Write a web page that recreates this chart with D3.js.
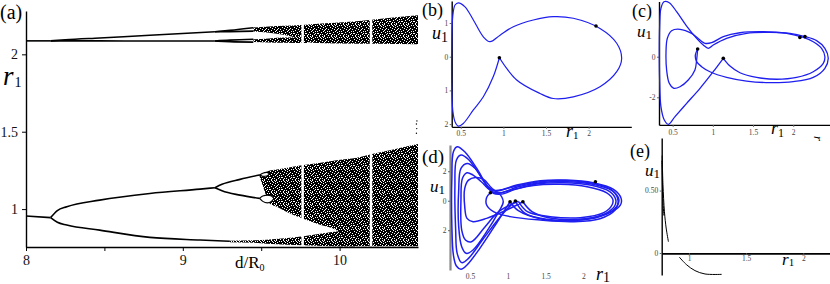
<!DOCTYPE html>
<html>
<head>
<meta charset="utf-8">
<script src="https://cdn.jsdelivr.net/npm/d3@7"></script>
<style>
  body { margin: 0; background: #fff; }
  text { font-family: "Liberation Serif", "DejaVu Serif", serif; }
</style>
</head>
<body>
<div class="fig"></div>
<script>
// ---- (a) bifurcation diagram ----
let aTicksX = [8, 8.5, 9, 9.5, 10];
let aTicksY = [1, 1.5, 2];

// period branches [d/R0, r1]
let p1Low = [[8, 0.955], [8.157, 0.945]];
let p2Up = [[8.157, 0.945], [8.2, 0.99], [8.26, 1.015], [8.47, 1.058], [8.79, 1.101], [9.11, 1.129], [9.205, 1.138]];
let p2Down = [[8.157, 0.945], [8.2, 0.915], [8.26, 0.897], [8.47, 0.864], [8.79, 0.817], [9.11, 0.8], [9.3, 0.792]];
let p4UpA = [[9.205, 1.138], [9.25, 1.16], [9.365, 1.192], [9.49, 1.22]];
let p4UpB = [[9.205, 1.138], [9.25, 1.118], [9.365, 1.09], [9.49, 1.069]];
let topP1 = [[8, 2.087], [8.157, 2.087]];
let topUp = [[8.157, 2.087], [8.25, 2.094], [8.47, 2.106], [8.79, 2.123], [9.205, 2.146]];
let topDown = [[8.157, 2.087], [8.47, 2.087], [8.79, 2.086], [9.205, 2.086]];
let topUpA = [[9.205, 2.146], [9.3, 2.155], [9.45, 2.172]];
let topUpB = [[9.205, 2.146], [9.3, 2.147], [9.45, 2.15]];
let topDownA = [[9.205, 2.086], [9.3, 2.092], [9.45, 2.097]];
let topDownB = [[9.205, 2.086], [9.3, 2.082], [9.45, 2.079]];

// chaotic bands [d/R0, low r1, high r1]
let chaosMain = [[9.49, 1.21, 1.225], [9.52, 1.12, 1.235], [9.55, 1.04, 1.248], [9.6, 1.015, 1.255], [9.66, 0.983, 1.265],
  [9.76, 0.94, 1.283], [9.88, 0.897, 1.3], [9.98, 0.864, 1.315], [10.06, 0.8, 1.325], [10.1, 0.76, 1.33],
  [10.2, 0.76, 1.355], [10.35, 0.76, 1.387], [10.5, 0.76, 1.42]];
let chaosLow = [[9.3, 0.786, 0.795], [9.5, 0.78, 0.8], [9.57, 0.775, 0.805], [9.77, 0.767, 0.825], [9.94, 0.76, 0.85], [10.1, 0.758, 0.87]];
let chaosTopA = [[9.45, 2.148, 2.173], [9.55, 2.14, 2.18], [9.65, 2.125, 2.185], [9.75, 2.1, 2.19], [9.82, 2.075, 2.195],
  [10.0, 2.07, 2.205], [10.25, 2.068, 2.228], [10.5, 2.065, 2.252]];
let chaosTopB = [[9.45, 2.079, 2.097], [9.55, 2.077, 2.103], [9.65, 2.075, 2.108], [9.8, 2.073, 2.11]];
let lensLow = [[9.49, 1.069, 1.069], [9.51, 1.05, 1.085], [9.54, 1.04, 1.09], [9.565, 1.05, 1.085], [9.58, 1.066, 1.07]];
let lensUp = [[9.49, 1.22, 1.22], [9.51, 1.212, 1.232], [9.535, 1.214, 1.237], [9.55, 1.224, 1.229]];
let periodWindows = [9.764, 10.2];
let edgeDots = [[10.49, 1.49], [10.492, 1.52], [10.49, 1.55], [10.493, 1.57]];

// ---- (b)-(e) phase portraits [r1, u1] ----
let bTicksX = [0.5, 1, 1.5, 2];
let bTicksY = [1, 0, -1, -2];
let orbitB = [[0.953, -0.03], [1.156, -0.69], [1.43, -1.09], [1.586, -1.24], [1.82, -1.19], [2.133, -0.89], [2.329, -0.445],
  [2.387, -0.05], [2.329, 0.4], [2.133, 0.84], [1.82, 1.14], [1.586, 1.19], [1.351, 1.09], [1.117, 0.89], [0.961, 0.64],
  [0.843, 0.445], [0.765, 0.59], [0.648, 1.09], [0.55, 1.48], [0.472, 1.6], [0.433, 1.535], [0.406, 1.19], [0.394, 0.2],
  [0.394, -0.79], [0.406, -1.58], [0.433, -1.93], [0.472, -2.06], [0.53, -1.98], [0.648, -1.58], [0.765, -1.19],
  [0.882, -0.59], [0.953, -0.03]];
let dotsB = [[0.953, -0.03], [2.086, 0.91]];

let cTicksX = [0.5, 1, 1.5, 2];
let cTicksY = [0, -2];
let orbitC1 = [[1.13, -0.08], [1.213, -0.46], [1.337, -0.79], [1.544, -1.02], [1.793, -1.11], [2.042, -1.02], [2.249, -0.74],
  [2.374, -0.33], [2.394, 0.0], [2.353, 0.41], [2.249, 0.74], [2.125, 0.95], [1.918, 1.15], [1.627, 1.23], [1.337, 1.18],
  [1.13, 0.99], [0.985, 0.69], [0.902, 0.66], [0.84, 0.82], [0.736, 1.15], [0.591, 1.35], [0.487, 1.28], [0.433, 0.9],
  [0.417, 0.166], [0.425, -0.655], [0.458, -1.31], [0.516, -1.56], [0.591, -1.48], [0.694, -1.15], [0.777, -0.655],
  [0.798, -0.16], [0.811, 0.38]];
let orbitC2 = [[0.811, 0.38], [0.782, 0.08], [0.798, -0.245], [0.86, -0.49], [0.964, -0.74], [1.171, -1.02], [1.42, -1.2],
  [1.71, -1.28], [2.0, -1.23], [2.249, -1.02], [2.394, -0.57], [2.436, -0.08], [2.394, 0.41], [2.291, 0.79], [2.146, 0.99],
  [1.959, 1.15], [1.71, 1.2], [1.42, 1.15], [1.171, 0.905], [1.005, 0.576], [0.943, 0.41], [0.881, 0.576], [0.798, 0.905],
  [0.674, 1.51], [0.549, 2.22], [0.458, 2.66], [0.392, 2.71], [0.354, 2.38], [0.338, 1.48], [0.334, 0.166], [0.338, -1.15],
  [0.354, -2.46], [0.396, -3.12], [0.446, -3.33], [0.529, -2.95], [0.674, -2.3], [0.84, -1.56], [1.005, -0.74], [1.13, -0.08]];
let dotsC = [[1.13, -0.08], [0.811, 0.38], [2.083, 0.95], [2.146, 0.99]];

let dTicksX = [0.5, 1, 1.5, 2];
let dTicksY = [2, 0, -2];
let orbitD1 = [[1.2, -0.07], [1.32, -0.74], [1.56, -1.17], [1.96, -1.26], [2.31, -0.9], [2.49, -0.3], [2.5, 0.16], [2.4, 0.77],
  [2.13, 1.22], [1.78, 1.4], [1.43, 1.36], [1.12, 1.06], [0.92, 0.73], [0.83, 0.66], [0.74, 0.95], [0.59, 2.19], [0.43, 3.32],
  [0.33, 3.66], [0.28, 3.32], [0.26, 1.63], [0.26, -1.76], [0.28, -3.68], [0.32, -4.43], [0.38, -4.65], [0.46, -4.36],
  [0.63, -3.23], [0.85, -1.53], [1.03, -0.07]];
let orbitD2 = [[1.03, -0.07], [1.14, -0.68], [1.43, -1.22], [1.87, -1.35], [2.22, -1.08], [2.44, -0.4], [2.47, 0.09], [2.38, 0.68],
  [2.11, 1.13], [1.78, 1.29], [1.43, 1.22], [1.14, 0.95], [0.96, 0.61], [0.86, 0.5], [0.77, 0.73], [0.63, 1.74], [0.48, 2.8],
  [0.38, 3.1], [0.32, 2.76], [0.3, 0.95], [0.31, -1.99], [0.33, -3.57], [0.39, -4.2], [0.48, -3.91], [0.68, -2.55],
  [0.92, -0.97], [1.1, -0.02]];
let orbitD3 = [[1.1, -0.02], [1.23, -0.86], [1.52, -1.26], [1.91, -1.31], [2.24, -0.99], [2.41, -0.4], [2.43, 0.05], [2.35, 0.61],
  [2.09, 1.06], [1.74, 1.22], [1.38, 1.13], [1.1, 0.77], [0.92, 0.45], [0.81, 0.5], [0.7, 1.18], [0.57, 2.19], [0.46, 2.53],
  [0.38, 2.19], [0.35, 0.73], [0.35, -1.76], [0.39, -3.12], [0.45, -3.57], [0.54, -3.34], [0.72, -2.1], [0.88, -0.74],
  [0.94, -0.07], [0.88, 0.5], [0.77, 0.54]];
let orbitD4 = [[0.77, 0.54], [0.72, 0.22], [0.72, -0.29], [0.81, -0.74], [1.03, -1.08], [1.43, -1.31], [1.87, -1.42], [2.22, -1.22],
  [2.42, -0.63], [2.46, -0.02], [2.39, 0.68], [2.13, 1.18], [1.78, 1.36], [1.43, 1.29], [1.12, 1.0], [0.9, 0.73], [0.77, 0.73],
  [0.65, 1.29], [0.54, 1.74], [0.46, 1.9], [0.4, 1.52], [0.38, 0.05], [0.39, -1.99], [0.44, -2.66], [0.52, -2.78],
  [0.7, -1.76], [0.88, -0.74], [1.14, -0.04]];
let orbitD5 = [[1.14, -0.04], [1.26, -0.74], [1.56, -1.08], [1.96, -1.15], [2.27, -0.81], [2.38, -0.29], [2.39, 0.09], [2.31, 0.54],
  [2.05, 0.95], [1.69, 1.11], [1.34, 1.04], [1.05, 0.73], [0.88, 0.54], [0.79, 0.84], [0.68, 1.45], [0.57, 1.58], [0.48, 1.4],
  [0.43, 0.84], [0.43, -0.4], [0.46, -1.2], [0.54, -1.42], [0.72, -1.2], [0.94, -0.74], [1.12, -0.29], [1.2, -0.07]];
let dotsD = [[1.03, -0.07], [1.1, -0.02], [1.2, -0.07], [0.77, 0.54], [2.16, 1.29]];

let eTicksX = [1, 1.5, 2];
let eTicksY = [0.5, 0];
let eNearAxisA = [[0.765, 0.78], [0.772, 0.55], [0.785, 0.33], [0.8, 0.2], [0.82, 0.09]];
let eNearAxisB = [[0.763, 0.74], [0.766, 0.6], [0.77, 0.45], [0.78, 0.3]];
let eLowerArc = [[0.915, -0.033], [0.98, -0.095], [1.052, -0.141], [1.14, -0.168], [1.286, -0.171]];

const blue = "#1e1ef0";
const serif = "'Liberation Serif', 'DejaVu Serif', serif";

let svg = d3.select(".fig")
  .append("svg")
  .attr("width", 830)
  .attr("height", 284)
  .style("background-color", "white");

// speckled fill for the chaotic bands (white grains on black)
let pat = svg.append("defs").append("pattern")
  .attr("id", "speckle")
  .attr("width", 12)
  .attr("height", 12)
  .attr("patternUnits", "userSpaceOnUse");
pat.append("rect").attr("width", 12).attr("height", 12).attr("fill", "#000");
let grains = [[0, 0], [7, 0], [10, 0], [3, 1], [5, 1], [11, 1], [9, 2], [1, 2], [11, 3], [6, 3], [2, 4], [8, 4],
  [4, 5], [10, 5], [0, 6], [7, 6], [3, 7], [5, 7], [11, 7], [1, 8], [9, 8], [6, 9], [5, 9], [3, 9],
  [2, 10], [8, 10], [10, 10], [4, 11], [0, 11], [7, 11], [1, 5], [8, 1]];
grains.forEach(p => {
  pat.append("rect").attr("x", p[0]).attr("y", p[1]).attr("width", 1).attr("height", 1).attr("fill", "#fff");
});

function subLabel(x, y, main, sub, size, subSize, dx, dy, italic) {
  let t = svg.append("text").attr("x", x).attr("y", y).attr("font-size", size).attr("fill", "#000");
  t.append("tspan").text(main).attr("font-style", italic ? "italic" : "normal");
  t.append("tspan").text(sub).attr("font-size", subSize).attr("dx", dx).attr("dy", dy).attr("font-style", "normal");
}

// ================= panel (a) =================
let xA = d3.scaleLinear().domain([8, 10.5]).range([26, 418]);
let yA = d3.scaleLinear().domain([0.755, 2.28]).range([247, 11]);

let bandArea = d3.area()
  .x(d => xA(d[0]))
  .y0(d => yA(d[1]))
  .y1(d => yA(d[2]))
  .curve(d3.curveMonotoneX);

[chaosMain, chaosLow, chaosTopA, chaosTopB].forEach(b => {
  svg.append("path").attr("d", bandArea(b)).attr("fill", "url(#speckle)");
});

periodWindows.forEach(w => {
  svg.append("rect")
    .attr("x", xA(w) - 1.2)
    .attr("y", 12)
    .attr("width", 2.5)
    .attr("height", 234)
    .attr("fill", "#fff");
});

[lensLow, lensUp].forEach(l => {
  svg.append("path").attr("d", bandArea(l))
    .attr("fill", "#fff").attr("stroke", "#000").attr("stroke-width", 1.1);
});

let branchLine = d3.line().x(d => xA(d[0])).y(d => yA(d[1])).curve(d3.curveMonotoneX);
[p1Low, p2Up, p2Down, p4UpA, p4UpB, topP1, topUp, topDown, topUpA, topUpB, topDownA, topDownB].forEach(b => {
  svg.append("path").attr("d", branchLine(b))
    .attr("fill", "none").attr("stroke", "#000").attr("stroke-width", 1.6);
});

svg.selectAll(".edgeDot").data(edgeDots).enter().append("circle")
  .attr("cx", d => xA(d[0])).attr("cy", d => yA(d[1])).attr("r", 0.7).attr("fill", "#000");

let axA = svg.append("g").attr("transform", "translate(0,247)")
  .call(d3.axisBottom(xA).tickValues(aTicksX).tickSize(4).tickSizeOuter(0).tickPadding(4)
    .tickFormat(d => Number.isInteger(d) ? d : ""));
let ayA = svg.append("g").attr("transform", "translate(26,0)")
  .call(d3.axisLeft(yA).tickValues(aTicksY).tickSize(4).tickSizeOuter(0).tickPadding(4)
    .tickFormat(d => String(d)));
[axA, ayA].forEach(g => {
  g.attr("font-family", serif);
  g.select(".domain").attr("stroke", "#000").attr("stroke-width", 1.4);
  g.selectAll("line").attr("stroke", "#000");
  g.selectAll("text").attr("font-size", 14).attr("fill", "#111");
});

svg.append("text").attr("x", 0).attr("y", 19).attr("font-size", 20).text("(a)");
subLabel(3, 85, "r", "1", 27, 14, 1, 2, true);
subLabel(235, 268, "d/R", "0", 17, 10, 0, 3, false);

// ================= phase portraits helpers =================
function phaseAxes(xs, ys, xTicks, yTicks, x0, y0, opts) {
  let gx = svg.append("g").attr("transform", "translate(0," + y0 + ")")
    .call(d3.axisBottom(xs).tickValues(xTicks).tickSize(opts.tx).tickSizeOuter(0).tickPadding(opts.px)
      .tickFormat(d => d));
  let gy = svg.append("g").attr("transform", "translate(" + x0 + ",0)")
    .call(d3.axisLeft(ys).tickValues(yTicks).tickSize(2).tickSizeOuter(0).tickPadding(1.5)
      .tickFormat(opts.yfmt));
  [gx, gy].forEach(g => {
    g.attr("font-family", serif);
    g.selectAll("text").attr("font-size", 7.5).attr("fill", "#444");
    g.selectAll(".tick line").attr("stroke", "#666");
  });
  gx.select(".domain").attr("stroke", opts.xAxisColor).attr("stroke-width", opts.xw);
  gy.select(".domain").attr("stroke", opts.yAxisColor).attr("stroke-width", opts.yw);
}

function drawOrbit(xs, ys, pts, color, w) {
  let ln = d3.line().x(d => xs(d[0])).y(d => ys(d[1])).curve(d3.curveCatmullRom.alpha(0.5));
  svg.append("path").attr("d", ln(pts)).attr("fill", "none")
    .attr("stroke", color).attr("stroke-width", w).attr("stroke-linejoin", "round");
}

function drawDots(xs, ys, pts) {
  pts.forEach(p => svg.append("circle").attr("cx", xs(p[0])).attr("cy", ys(p[1])).attr("r", 1.8).attr("fill", "#000"));
}

let absFmt = d => String(Math.abs(d));

// ================= panel (b) =================
let xB = d3.scaleLinear().domain([0.394, 2.5]).range([451.7, 631.3]);
let yB = d3.scaleLinear().domain([-2.08, 1.65]).range([126.8, 1.1]);
phaseAxes(xB, yB, bTicksX, bTicksY, 451.7, 126.8,
  { tx: 2, px: 1.5, yfmt: absFmt, xAxisColor: "#000", yAxisColor: "#000", xw: 1.2, yw: 1.4 });
drawOrbit(xB, yB, orbitB, blue, 1.2);
drawDots(xB, yB, dotsB);
svg.append("text").attr("x", 422).attr("y", 16).attr("font-size", 18).text("(b)");
subLabel(432, 39, "u", "1", 18, 14, 0, 3, true);
subLabel(566, 137, "r", "1", 18, 11, 0, 2, true);

// ================= panel (c) =================
let xC = d3.scaleLinear().domain([0.33, 2.47]).range([659, 831]);
let yC = d3.scaleLinear().domain([-3.36, 2.72]).range([124.9, 1.5]);
phaseAxes(xC, yC, cTicksX, cTicksY, 659, 124.9,
  { tx: 2, px: 2.5, yfmt: d => d, xAxisColor: "#000", yAxisColor: "#000", xw: 1.2, yw: 1.4 });
drawOrbit(xC, yC, orbitC1, blue, 1.3);
drawOrbit(xC, yC, orbitC2, blue, 1.3);
drawDots(xC, yC, dotsC);
svg.append("text").attr("x", 632).attr("y", 17).attr("font-size", 18).text("(c)");
subLabel(637, 37, "u", "1", 17, 13, 0, 2, true);
subLabel(771, 134, "r", "1", 18, 12, 0, 3, true);
svg.append("text").attr("transform", "translate(814,136) rotate(90)")
  .attr("font-size", 13).attr("font-style", "italic").text("r");

// ================= panel (d) =================
let xD = d3.scaleLinear().domain([0.235, 2.75]).range([450, 640]);
let yD = d3.scaleLinear().domain([-4.7, 3.78]).range([270, 145]);
phaseAxes(xD, yD, dTicksX, dTicksY, 450, 270,
  { tx: 0, px: 4, yfmt: absFmt, xAxisColor: "none", yAxisColor: "#888", xw: 0, yw: 2.2 });
[orbitD1, orbitD2, orbitD3, orbitD4, orbitD5].forEach(o => drawOrbit(xD, yD, o, blue, 1.5));
drawDots(xD, yD, dotsD);
svg.append("text").attr("x", 422).attr("y", 163).attr("font-size", 19).text("(d)");
subLabel(430, 192, "u", "1", 17, 13, 0, 1.5, true);
subLabel(596, 280, "r", "1", 18, 14, 0, 2, true);

// ================= panel (e) =================
let xE = d3.scaleLinear().domain([0.761, 2.234]).range([661.7, 830]);
let yE = d3.scaleLinear().domain([-0.177, 0.92]).range([275.1, 138.1]);
phaseAxes(xE, yE, eTicksX, eTicksY, 661.7, 253.3,
  { tx: 1.5, px: 1, yfmt: d => d === 0 ? "0" : d.toFixed(2), xAxisColor: "#000", yAxisColor: "#000", xw: 1.8, yw: 1.4 });
[eNearAxisA, eNearAxisB, eLowerArc].forEach(o => drawOrbit(xE, yE, o, "#000", 1));
svg.append("text").attr("x", 630).attr("y", 157).attr("font-size", 18).text("(e)");
subLabel(645, 176, "u", "1", 17, 13, 0, 2, true);
subLabel(782, 265, "r", "1", 17, 11, 0, 1, true);
</script>
</body>
</html>
